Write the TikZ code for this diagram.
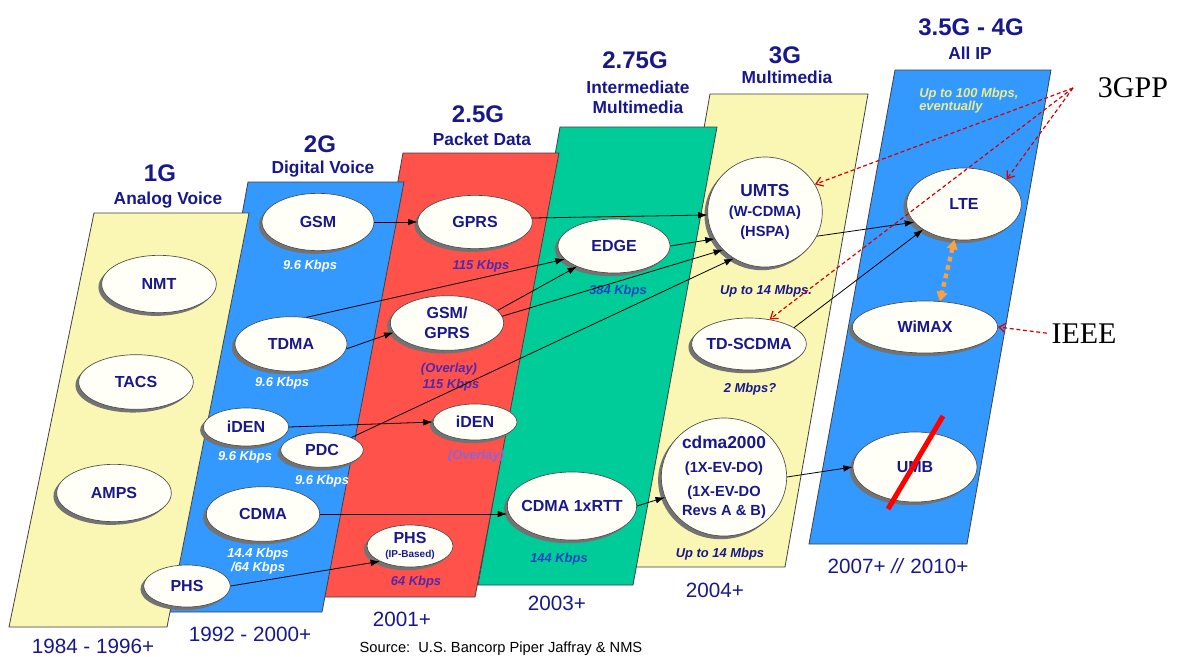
\documentclass[tikz,border=0pt]{standalone}
\usepackage{fontspec}
\setmainfont{Liberation Sans}
\newfontfamily\serifrm{Liberation Serif}
\usepackage{tikz}
\usetikzlibrary{shapes.geometric, shadows, arrows.meta}

\definecolor{ylwband}{RGB}{250,247,180}
\definecolor{blueband}{RGB}{51,153,255}
\definecolor{redband}{RGB}{255,82,74}
\definecolor{greenband}{RGB}{0,204,153}
\definecolor{hdnavy}{RGB}{24,24,140}
\definecolor{ellfill}{RGB}{255,255,248}
\definecolor{ratepurple}{RGB}{84,40,170}
\definecolor{ratelav}{RGB}{140,100,215}
\definecolor{rateblue}{RGB}{30,70,190}
\definecolor{ratepale}{RGB}{236,236,140}
\definecolor{gpporange}{RGB}{255,160,60}

\begin{document}
\begin{tikzpicture}[x=0.75pt, y=-0.75pt, >={Latex[length=7pt,width=5pt]},
    panel/.style={draw=black!75, line width=0.6pt},
    gentitle/.style={anchor=base, inner sep=0pt, text=hdnavy, font=\bfseries\fontsize{18}{20}\selectfont},
    gensub/.style={anchor=base, inner sep=0pt, text=hdnavy, font=\bfseries\fontsize{13}{15}\selectfont},
    yearlbl/.style={anchor=base, inner sep=0pt, text=hdnavy, font=\fontsize{15.5}{17}\selectfont},
    ratelbl/.style={anchor=base, inner sep=0pt, font=\bfseries\itshape\fontsize{9.7}{11}\selectfont},
    ellnode/.style={ellipse, draw=black!70, line width=0.5pt, fill=ellfill, inner sep=0pt,
        align=center, text=hdnavy, font=\bfseries\fontsize{12}{15}\selectfont,
        drop shadow={shadow xshift=-2.4pt, shadow yshift=-2.4pt, fill=black!55, opacity=1}},
    arrowlink/.style={->, line width=0.6pt},
    stdlink/.style={red!85!black, line width=0.9pt, dash pattern=on 3pt off 2pt,
        -{Straight Barb[length=5pt,width=7pt]}},
    stdtext/.style={anchor=base, text=black, font=\serifrm\fontsize{22.5}{25}\selectfont}]

    \fill[white] (0,0) rectangle (1179,657);
    \useasboundingbox (0,0) rectangle (1179,657);

    % ==================== 色带 (从右往左) ====================
    \draw[panel, fill=blueband] (895,70) -- (1051,70) -- (967,544) -- (809,544) -- cycle;
    \draw[panel, fill=ylwband] (710,94) -- (868,94) -- (785,567) -- (627,567) -- cycle;
    \draw[panel, fill=greenband] (560,127) -- (717,127) -- (633,585) -- (478,585) -- cycle;
    \draw[panel, fill=redband] (403,153) -- (559,153) -- (475,597) -- (323,597) -- cycle;
    \draw[panel, fill=blueband] (248,182) -- (404,182) -- (322,612) -- (170,612) -- cycle;
    \draw[panel, fill=ylwband] (94,213) -- (249,213) -- (167,627) -- (9,627) -- cycle;

    % ==================== 1G ====================
    \node[gentitle] (t1g) at (160,181) {1G};
    \node[gensub] (s1g) at (168,204) {Analog Voice};
    \node[ellnode, minimum width=86pt, minimum height=43pt] (nmt) at (159,284) {NMT};
    \node[ellnode, minimum width=86pt, minimum height=41pt] (tacs) at (136,382) {TACS};
    \node[ellnode, minimum width=86pt, minimum height=43pt] (amps) at (114,493) {AMPS};
    \node[yearlbl] (y1g) at (93,653) {1984 - 1996+};

    % ==================== 2G ====================
    \node[gentitle] (t2g) at (320,152) {2G};
    \node[gensub] (s2g) at (323,173) {Digital Voice};
    \node[ellnode, minimum width=84pt, minimum height=43pt] (gsm) at (318,222) {GSM};
    \node[ellnode, minimum width=84pt, minimum height=41pt] (tdma) at (291,344) {TDMA};
    \node[ellnode, minimum width=64pt, minimum height=28.5pt] (iden) at (246,427) {iDEN};
    \node[ellnode, minimum width=62pt, minimum height=26pt] (pdc) at (322,450) {PDC};
    \node[ellnode, minimum width=85pt, minimum height=41pt] (cdma) at (263,514) {CDMA};
    \node[ellnode, minimum width=65pt, minimum height=31.5pt] (phs) at (187,586) {PHS};
    \node[ratelbl, text=white] (gsmrate) at (310,269) {9.6 Kbps};
    \node[ratelbl, text=white] (tdmarate) at (282,386) {9.6 Kbps};
    \node[ratelbl, text=white] (idenrate) at (245,460) {9.6 Kbps};
    \node[ratelbl, text=white] (pdcrate) at (322,484) {9.6 Kbps};
    \node[ratelbl, text=white] (cdmarate) at (258,557) {14.4 Kbps};
    \node[ratelbl, text=white] (cdmarateb) at (258,571) {/64 Kbps};
    \node[yearlbl] (y2g) at (250,641) {1992 - 2000+};

    % ==================== 2.5G ====================
    \node[gentitle] (t25g) at (478,122) {2.5G};
    \node[gensub] (s25g) at (482,145) {Packet Data};
    \node[ellnode, minimum width=86pt, minimum height=40pt] (gprs) at (475,222) {GPRS};
    \node[ellnode, minimum width=85pt, minimum height=41pt] (gsmgprs) at (447,323) {GSM/\\GPRS};
    \node[ellnode, minimum width=63pt, minimum height=27pt] (idenov) at (475,422) {iDEN};
    \node[ellnode, minimum width=64.5pt, minimum height=31.5pt] (phsip) at (410,546)
        {PHS\\[-5pt]{\fontsize{7.5}{8}\selectfont (IP-Based)}};
    \node[ratelbl, text=ratepurple] (gprsrate) at (481,269) {115 Kbps};
    \node[ratelbl, text=ratepurple] (ovlnote) at (449,372) {(Overlay)};
    \node[ratelbl, text=ratepurple] (ovlrate) at (451,388) {115 Kbps};
    \node[ratelbl, text=ratelav] (idenovnote) at (476,459) {(Overlay)};
    \node[ratelbl, text=ratepurple] (phsiprate) at (416,585) {64 Kbps};
    \node[yearlbl] (y25g) at (402,626) {2001+};

    % ==================== 2.75G ====================
    \node[gentitle] (t275g) at (635,68) {2.75G};
    \node[gensub] (s275ga) at (638,93) {Intermediate};
    \node[gensub] (s275gb) at (638,113) {Multimedia};
    \node[ellnode, minimum width=84pt, minimum height=40.5pt] (edge) at (614,246) {EDGE};
    \node[ellnode, minimum width=97pt, minimum height=51pt, inner xsep=-4pt] (rtt) at (572,506) {CDMA 1xRTT};
    \node[ratelbl, text=rateblue] (edgerate) at (618,294) {384 Kbps};
    \node[ratelbl, text=rateblue] (rttrate) at (559,562) {144 Kbps};
    \node[yearlbl] (y275g) at (557,610) {2003+};

    % ==================== 3G ====================
    \node[gentitle] (t3g) at (785,63) {3G};
    \node[gensub] (s3g) at (787,83) {Multimedia};
    \node[ellnode, minimum width=86pt, minimum height=82.5pt] (umts) at (765,212)
        {{\fontsize{13}{15}\selectfont UMTS}\\{\fontsize{11}{15}\selectfont (W-CDMA)}\\{\fontsize{11}{16}\selectfont (HSPA)}};
    \node[ellnode, minimum width=86pt, minimum height=39pt, inner xsep=-5pt] (tdscdma) at (749,344) {TD-SCDMA};
    \node[ellnode, minimum width=94pt, minimum height=88.5pt, inner sep=-2pt] (cdma2k) at (724,477)
        {{\fontsize{13}{15}\selectfont cdma2000}\\[3pt]{\fontsize{11}{14}\selectfont (1X-EV-DO)}\\[3pt]%
         {\fontsize{11}{14}\selectfont (1X-EV-DO}\\[-1pt]{\fontsize{11}{14}\selectfont Revs A \& B)}};
    \node[ratelbl, text=hdnavy] (umtsrate) at (766,294) {Up to 14 Mbps.};
    \node[ratelbl, text=hdnavy] (tdrate) at (750,392) {2 Mbps?};
    \node[ratelbl, text=hdnavy] (cdma2krate) at (720,557) {Up to 14 Mbps};
    \node[yearlbl] (y3g) at (715,597) {2004+};

    % ==================== 3.5G - 4G ====================
    \node[gentitle] (t4g) at (971,35) {3.5G - 4G};
    \node[gensub] (s4g) at (970,59) {All IP};
    \node[ratelbl, anchor=base west, text=ratepale] (lterate) at (919,97) {Up to 100 Mbps,};
    \node[ratelbl, anchor=base west, text=ratepale] (ltenote) at (919,110) {eventually};
    \node[ellnode, minimum width=86pt, minimum height=54pt] (lte) at (964,204) {LTE};
    \node[ellnode, minimum width=109pt, minimum height=39pt] (wimax) at (925,327) {WiMAX};
    \node[ellnode, minimum width=93pt, minimum height=52.5pt] (umb) at (915,467) {UMB};
    \node[yearlbl] (y4g) at (898,573) {2007+ \textit{//} 2010+};

    % 标准组织
    \node[stdtext] (gpp) at (1133,97) {3GPP};
    \node[stdtext] (ieee) at (1084,343) {IEEE};
    \coordinate (gppsrc) at (1073,88);

    \node[anchor=base, inner sep=0pt, font=\fontsize{11}{13}\selectfont] (src) at (501,652)
        {Source:~~U.S. Bancorp Piper Jaffray \& NMS};

    % ==================== 演进箭头 ====================
    \draw[arrowlink] (gsm.east) -- (gprs.west);
    \draw[arrowlink] (gprs.4) -- (umts.183);
    \draw[arrowlink] (edge.east) -- (umts.208);
    \draw[arrowlink] (gsmgprs.7) -- (umts.222);
    \draw[arrowlink] (gsmgprs.14) -- (edge.209);
    \draw[arrowlink] (tdma.60) -- (edge.195);
    \draw[arrowlink] (tdma.-5) -- (gsmgprs.190);
    \draw[arrowlink] (pdc.23) -- (umts.236);
    \draw[arrowlink] (iden.east) -- (idenov.west);
    \draw[arrowlink] (cdma.east) -- (cdma.east -| rtt.west);
    \draw[arrowlink] (phs.east) -- (phsip.207);
    \draw[arrowlink] (rtt.east) -- (cdma2k.199);
    \draw[arrowlink] (cdma2k.east) -- (umb.west);
    \draw[arrowlink] (umts.335) -- (lte.200);
    \draw[arrowlink] (tdscdma.20) -- (lte.212);

    % 3GPP / IEEE 虚线
    \draw[stdlink] (gppsrc) -- (umts.29);
    \draw[stdlink] (gppsrc) -- (lte.30);
    \draw[stdlink] (gppsrc) -- (tdscdma.50);
    \draw[stdlink] (ieee.west) -- (wimax.east);

    % LTE <-> WiMAX
    \draw[gpporange, line width=3.2pt, dash pattern=on 3.5pt off 3pt,
        {Triangle[length=7pt,width=8pt]}-{Triangle[length=7pt,width=8pt]}] (lte.255) -- (wimax.60);

    % UMB 划掉
    \draw[red, line width=3.8pt] ([shift={(-27,42)}]umb.center) -- ([shift={(28,-51)}]umb.center);
\end{tikzpicture}
\end{document}
